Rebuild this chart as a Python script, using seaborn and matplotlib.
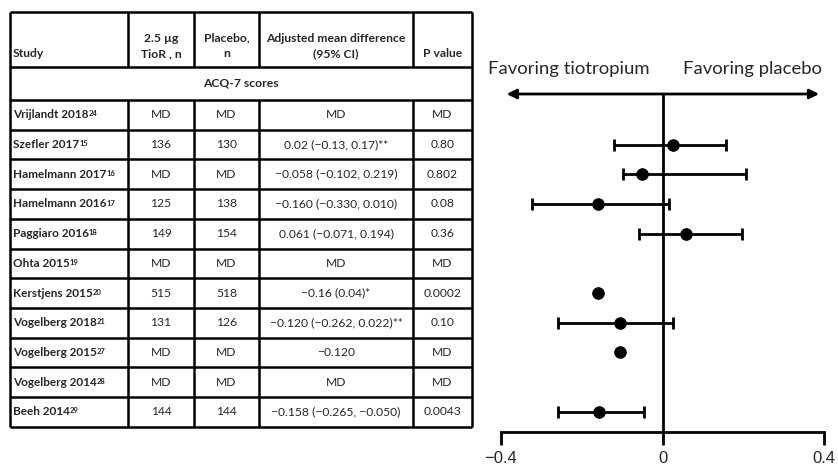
import numpy as np
import pandas as pd
import matplotlib
matplotlib.use('Agg')
import matplotlib.pyplot as plt
import seaborn as sns

# data
studies = ['Vrijlandt 2018', 'Szefler 2017', 'Hamelmann 2017', 'Hamelmann 2016',
           'Paggiaro 2016', 'Ohta 2015', 'Kerstjens 2015', 'Vogelberg 2018',
           'Vogelberg 2015', 'Vogelberg 2014', 'Beeh 2014']
refs = ['24', '15', '16', '17', '18', '19', '20', '21', '27', '28', '29']
tior_n = ['MD', '136', 'MD', '125', '149', 'MD', '515', '131', 'MD', 'MD', '144']
placebo_n = ['MD', '130', 'MD', '138', '154', 'MD', '518', '126', 'MD', 'MD', '144']
amd_text = ['MD', '0.02 (\u22120.13, 0.17)**', '\u22120.058 (\u22120.102, 0.219)',
            '\u22120.160 (\u22120.330, 0.010)', '0.061 (\u22120.071, 0.194)', 'MD',
            '\u22120.16 (0.04)*', '\u22120.120 (\u22120.262, 0.022)**', '\u22120.120',
            'MD', '\u22120.158 (\u22120.265, \u22120.050)']
p_values = ['MD', '0.80', '0.802', '0.08', '0.36', 'MD', '0.0002', '0.10', 'MD', 'MD', '0.0043']
headers = ['Study', '2.5 \u00b5g\nTioR , n', 'Placebo,\nn', 'Adjusted mean difference\n(95% CI)', 'P value']
section = 'ACQ-7 scores'

# plotted estimates as drawn in the forest plot
est = [np.nan, 0.025, -0.051, -0.160, 0.057, np.nan, -0.160, -0.106, -0.106, np.nan, -0.158]
ci_lo = [np.nan, -0.121, -0.097, -0.323, -0.057, np.nan, np.nan, -0.259, np.nan, np.nan, -0.259]
ci_hi = [np.nan, 0.158, 0.206, 0.016, 0.197, np.nan, np.nan, 0.026, np.nan, np.nan, -0.046]

sns.set_theme(style='white')
plt.rcParams['font.family'] = ['Lato', 'DejaVu Sans']

W, H = 838, 467
fig = plt.figure(figsize=(W / 100, H / 100), dpi=100)

# 1. Table, drawn in pixel coordinates
tab = fig.add_axes([0, 0, 1, 1])
tab.set_xlim(0, W)
tab.set_ylim(H, 0)
tab.axis('off')

col_edges = [10, 128, 194, 259, 413, 472]
head_top, head_bot, sec_bot = 12, 67, 100
row_h = 29.7
row_edges = [head_top, head_bot, sec_bot] + [sec_bot + row_h * (k + 1) for k in range(len(studies))]
lw_tab = 1.8
tab.hlines(row_edges, col_edges[0], col_edges[-1], color='black', lw=lw_tab)
for i, x in enumerate(col_edges):
    if i in (0, len(col_edges) - 1):
        tab.vlines(x, head_top, row_edges[-1], color='black', lw=lw_tab)
    else:
        tab.vlines(x, head_top, head_bot, color='black', lw=lw_tab)
        tab.vlines(x, sec_bot, row_edges[-1], color='black', lw=lw_tab)

fs = 8.7
col_centers = [(col_edges[i] + col_edges[i + 1]) / 2 for i in range(len(col_edges) - 1)]
for j, h in enumerate(headers):
    x = col_edges[0] + 3 if j == 0 else col_centers[j]
    tab.text(x, 59, h, ha='left' if j == 0 else 'center', va='bottom',
             fontsize=fs, fontweight='bold', linespacing=1.5)
tab.text((col_edges[0] + col_edges[-1]) / 2, (head_bot + sec_bot) / 2, section,
         ha='center', va='center', fontsize=fs, fontweight='bold')

for i in range(len(studies)):
    yc = sec_bot + row_h * (i + 0.5)
    t = tab.text(col_edges[0] + 3, yc, studies[i], ha='left', va='center',
                 fontsize=8.5, fontweight='bold')
    tab.annotate(refs[i], xy=(1, 0.9), xycoords=t, ha='left', va='top',
                 fontsize=5.5, fontweight='bold')
    for j, vals in enumerate([tior_n, placebo_n, amd_text, p_values], start=1):
        tab.text(col_centers[j], yc, vals[i], ha='center', va='center', fontsize=fs)

# 2. Forest plot
y_top_px, y_bot_px = 94, 432
x_l_px, x_r_px = 501, 824
ax = fig.add_axes([x_l_px / W, (H - y_bot_px) / H, (x_r_px - x_l_px) / W, (y_bot_px - y_top_px) / H])
ax.set_facecolor('none')
ax.set_xlim(-0.4, 0.4)
ax.set_ylim((y_bot_px - sec_bot) / row_h, (y_top_px - sec_bot) / row_h)

df = pd.DataFrame({'study': studies, 'est': est, 'lo': ci_lo, 'hi': ci_hi,
                   'pos': np.arange(len(studies)) + 0.5})
ci = df.dropna(subset=['lo', 'hi'])
ax.errorbar(ci['est'], ci['pos'], xerr=[ci['est'] - ci['lo'], ci['hi'] - ci['est']],
            fmt='none', ecolor='black', elinewidth=2, capsize=4.5, capthick=2)
sns.scatterplot(data=df.dropna(subset=['est']), x='est', y='pos', ax=ax, s=70,
                color='black', edgecolor='black', zorder=3, legend=False)
ax.axvline(0, color='black', lw=2)

for s in ['top', 'left', 'right']:
    ax.spines[s].set_visible(False)
ax.spines['bottom'].set_linewidth(2)
ax.spines['bottom'].set_color('black')
ax.set_xticks([-0.4, 0, 0.4])
ax.set_xticklabels(['\u22120.4', '0', '0.4'], fontfamily='Liberation Sans', fontsize=12)
ax.tick_params(axis='x', bottom=True, direction='out', length=9, width=2, color='black', pad=5)
ax.set_yticks([])
ax.set_xlabel('')
ax.set_ylabel('')

y_arrow = (y_top_px - sec_bot) / row_h
ax.annotate('', xy=(-0.386, y_arrow), xytext=(0.388, y_arrow),
            arrowprops=dict(arrowstyle='<|-|>', color='black', lw=2, mutation_scale=14,
                            shrinkA=0, shrinkB=0), annotation_clip=False)
y_lab = (69 - sec_bot) / row_h
ax.text(-0.433, y_lab, 'Favoring tiotropium', ha='left', va='center', fontsize=13.3)
ax.text(0.396, y_lab, 'Favoring placebo', ha='right', va='center', fontsize=13.3)

fig.savefig('out.png', dpi=100)
